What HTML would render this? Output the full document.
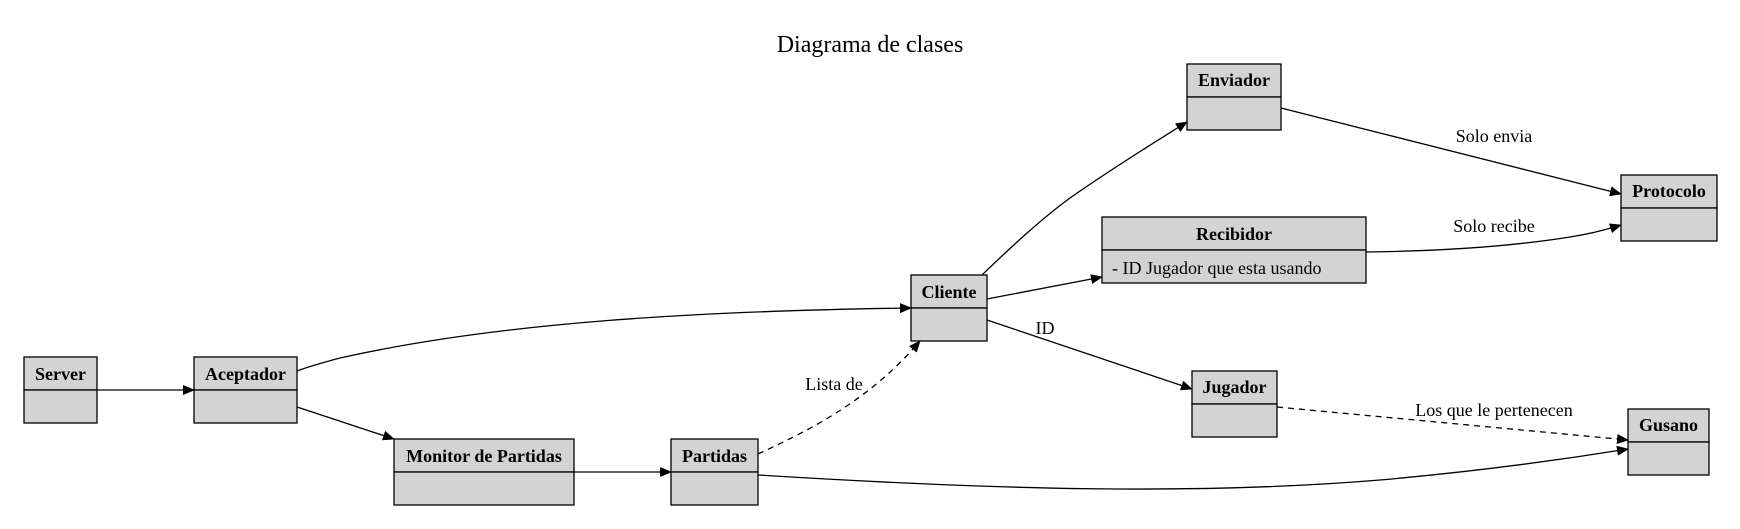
<!DOCTYPE html>
<html><head><meta charset="utf-8"><style>
html,body{margin:0;padding:0;background:#fff;}
svg{display:block;font-family:"Liberation Serif",serif;}
.b{fill:#d3d3d3;stroke:#000;stroke-width:1.3;}
.t{font-weight:bold;font-size:18px;text-anchor:middle;}
.l{font-size:18px;text-anchor:middle;}
.e{fill:none;stroke:#000;stroke-width:1.3;}
.d{stroke-dasharray:6,5;}
</style></head><body>
<svg width="1740" height="529" viewBox="0 0 1740 529">
<defs><marker id="a" markerWidth="12" markerHeight="10" refX="11" refY="5" orient="auto" markerUnits="userSpaceOnUse"><path d="M0,0 L12,5 L0,10 Z" fill="#000"/></marker></defs>
<text x="870" y="52" font-size="24" text-anchor="middle">Diagrama de clases</text>

<g class="e">
<path d="M97,390 L194,390" marker-end="url(#a)"/>
<path d="M297,371 C310,366 325,362 340,358 C500,322 700,311 911,308" marker-end="url(#a)"/>
<path d="M297,407 L394,439" marker-end="url(#a)"/>
<path d="M574,472 L671,472" marker-end="url(#a)"/>
<path class="d" d="M758,454 C810,430 870,400 920,341" marker-end="url(#a)"/>
<path d="M758,475 C1000,490 1200,495 1380,480 C1470,472 1560,460 1628,449" marker-end="url(#a)"/>
<path d="M982,275 C1010,248 1040,220 1070,198 C1110,170 1150,145 1187,122" marker-end="url(#a)"/>
<path d="M987,299 L1102,277" marker-end="url(#a)"/>
<path d="M987,320 L1192,389" marker-end="url(#a)"/>
<path d="M1281,108 L1621,194" marker-end="url(#a)"/>
<path d="M1366,252 C1450,251 1520,245 1570,237 C1590,234 1605,230 1621,225" marker-end="url(#a)"/>
<path class="d" d="M1277,407 L1628,440" marker-end="url(#a)"/>
</g>

<text class="l" x="834" y="390">Lista de</text>
<text class="l" x="1045" y="334">ID</text>
<text class="l" x="1494" y="142">Solo envia</text>
<text class="l" x="1494" y="232">Solo recibe</text>
<text class="l" x="1494" y="416">Los que le pertenecen</text>

<g>
<rect class="b" x="24" y="357" width="73" height="33"/><rect class="b" x="24" y="390" width="73" height="33"/>
<text class="t" x="60.5" y="380">Server</text>
<rect class="b" x="194" y="357" width="103" height="33"/><rect class="b" x="194" y="390" width="103" height="33"/>
<text class="t" x="245.5" y="380">Aceptador</text>
<rect class="b" x="394" y="439" width="180" height="33"/><rect class="b" x="394" y="472" width="180" height="33"/>
<text class="t" x="484" y="462">Monitor de Partidas</text>
<rect class="b" x="671" y="439" width="87" height="33"/><rect class="b" x="671" y="472" width="87" height="33"/>
<text class="t" x="714.5" y="462">Partidas</text>
<rect class="b" x="911" y="275" width="76" height="33"/><rect class="b" x="911" y="308" width="76" height="33"/>
<text class="t" x="949" y="298">Cliente</text>
<rect class="b" x="1187" y="64" width="94" height="33"/><rect class="b" x="1187" y="97" width="94" height="33"/>
<text class="t" x="1234" y="86">Enviador</text>
<rect class="b" x="1102" y="217" width="264" height="33"/><rect class="b" x="1102" y="250" width="264" height="33"/>
<text class="t" x="1234" y="240">Recibidor</text>
<text x="1112" y="274" font-size="18">- ID Jugador que esta usando</text>
<rect class="b" x="1621" y="175" width="96" height="33"/><rect class="b" x="1621" y="208" width="96" height="33"/>
<text class="t" x="1669" y="197">Protocolo</text>
<rect class="b" x="1192" y="371" width="85" height="33"/><rect class="b" x="1192" y="404" width="85" height="33"/>
<text class="t" x="1234.5" y="393">Jugador</text>
<rect class="b" x="1628" y="409" width="81" height="33"/><rect class="b" x="1628" y="442" width="81" height="33"/>
<text class="t" x="1668.5" y="431">Gusano</text>
</g>
</svg>
</body></html>
